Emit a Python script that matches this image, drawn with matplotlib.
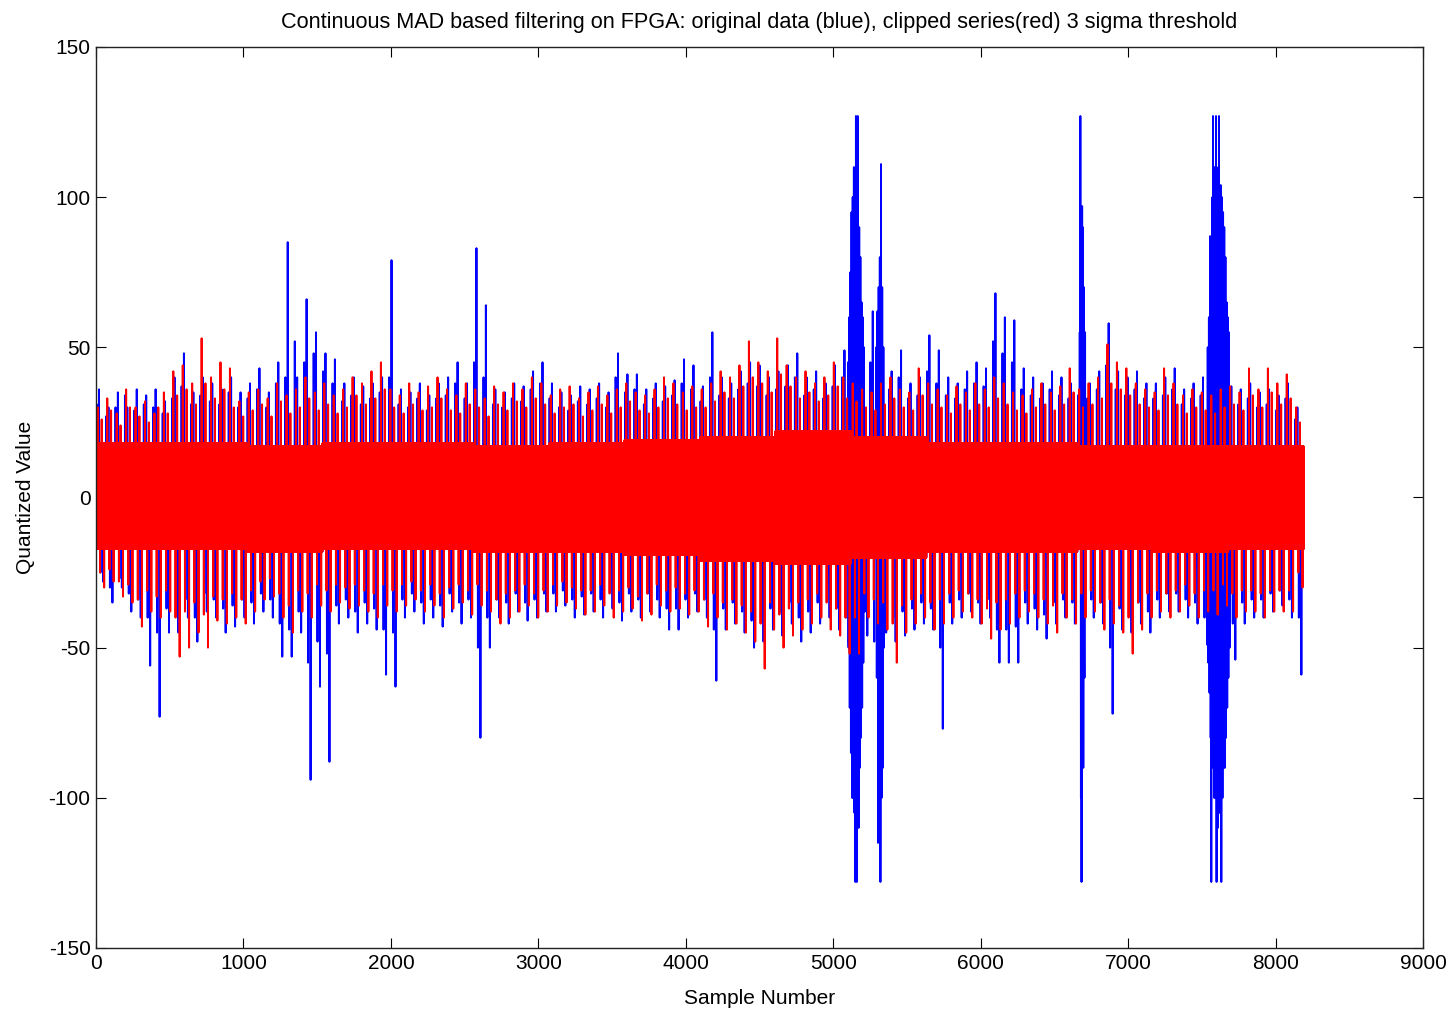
import numpy as np
import matplotlib
matplotlib.use("Agg")
import matplotlib.pyplot as plt

# samples and block sizes
n_samples = 8192
block = 64        # fringe peaks read per 64-sample block
core_block = 512  # width of solid band read per 512-sample block

# solid central band (per 512 samples)
core_top = [18, 18, 17, 18, 18, 17, 18, 19, 20, 22, 20, 18, 18, 17, 17, 17]
core_bot = [-17, -17, -18, -17, -17, -18, -18, -19, -21, -22, -20, -18, -18, -17, -18, -17]

# clipped series (red), largest peaks per 64-sample block
red_top = [30, 33, 28, 36, 30, 32, 28, 35, 42, 44, 38, 53, 40, 45, 43, 32,
           35, 36, 33, 38, 34, 36, 40, 35, 38, 34, 36, 40, 38, 42, 45, 36,
           34, 38, 35, 37, 40, 36, 34, 38, 36, 33, 37, 35, 38, 36, 40, 38,
           34, 36, 37, 33, 35, 37, 34, 36, 38, 35, 34, 36, 40, 38, 35, 37,
           36, 38, 42, 40, 44, 52, 45, 42, 53, 44, 40, 42, 38, 40, 45, 40,
           38, 36, 35, 38, 40, 36, 35, 43, 38, 36, 34, 37, 35, 38, 36, 40,
           38, 35, 34, 36, 38, 35, 37, 43, 36, 38, 40, 51, 45, 43, 38, 36,
           35, 43, 38, 34, 36, 35, 34, 36, 37, 35, 43, 36, 43, 38, 41, 30]
red_bot = [-30, -28, -33, -35, -43, -38, -40, -38, -53, -50, -45, -50, -41, -42, -40, -42,
           -38, -34, -33, -40, -45, -38, -40, -36, -38, -35, -37, -36, -38, -40, -36, -38,
           -36, -34, -38, -36, -40, -37, -35, -39, -36, -38, -42, -40, -38, -36, -40, -38,
           -36, -35, -37, -39, -38, -36, -40, -38, -37, -41, -39, -36, -38, -37, -39, -38,
           -43, -40, -44, -42, -45, -48, -57, -44, -50, -46, -44, -42, -40, -44, -46, -52,
           -52, -40, -42, -44, -55, -45, -42, -40, -44, -42, -40, -38, -40, -42, -47, -44,
           -42, -40, -38, -40, -42, -45, -40, -42, -40, -38, -44, -42, -45, -52, -44, -40,
           -38, -40, -38, -36, -40, -38, -39, -36, -40, -38, -38, -40, -38, -38, -38, -30]

# clipped series (red), second peaks per 64-sample block
red_top2 = [26, 29, 24, 30, 27, 25, 30, 28, 34, 36, 31, 38, 33, 36, 30, 27,
            29, 31, 27, 32, 28, 30, 33, 29, 31, 28, 30, 34, 31, 33, 36, 30,
            28, 31, 29, 30, 33, 29, 28, 31, 30, 27, 31, 29, 32, 30, 33, 31,
            28, 30, 31, 27, 29, 31, 28, 30, 32, 29, 28, 30, 33, 31, 29, 30,
            30, 32, 35, 33, 37, 40, 38, 35, 41, 37, 33, 35, 32, 34, 37, 33,
            32, 30, 29, 31, 33, 30, 29, 34, 31, 30, 28, 31, 29, 31, 30, 33,
            31, 29, 28, 30, 31, 29, 31, 35, 30, 31, 33, 38, 36, 34, 31, 30,
            29, 34, 31, 28, 30, 29, 28, 30, 31, 29, 34, 30, 35, 31, 33, 25]
red_bot2 = [-25, -24, -28, -29, -34, -31, -33, -31, -40, -38, -35, -39, -33, -34, -32, -34,
            -31, -28, -27, -32, -36, -31, -32, -29, -31, -29, -30, -29, -31, -32, -29, -31,
            -29, -28, -31, -29, -32, -30, -29, -31, -29, -31, -34, -32, -31, -29, -32, -31,
            -29, -28, -30, -31, -31, -29, -32, -31, -30, -33, -32, -29, -31, -30, -32, -31,
            -34, -32, -35, -34, -36, -38, -42, -35, -39, -37, -35, -34, -32, -35, -37, -40,
            -40, -32, -34, -35, -42, -36, -34, -32, -35, -34, -32, -31, -32, -34, -37, -35,
            -34, -32, -31, -32, -34, -36, -32, -34, -32, -31, -35, -34, -36, -40, -35, -32,
            -31, -32, -31, -29, -32, -31, -31, -29, -32, -31, -31, -32, -31, -31, -31, -25]

# original data (blue), peaks per 64-sample block
blue_top = [36, 30, 35, 30, 36, 34, 36, 32, 40, 48, 35, 40, 38, 36, 40, 35,
            38, 43, 35, 45, 85, 40, 66, 55, 48, 46, 38, 40, 37, 38, 40, 79,
            36, 35, 38, 34, 38, 40, 45, 38, 83, 64, 36, 35, 38, 37, 42, 45,
            38, 35, 34, 37, 36, 38, 35, 48, 41, 41, 36, 38, 37, 39, 46, 44,
            37, 55, 40, 38, 42, 45, 44, 40, 42, 44, 48, 40, 42, 38, 44, 49,
            45, 42, 62, 50, 42, 49, 38, 40, 54, 49, 40, 38, 42, 45, 43, 68,
            60, 59, 43, 40, 38, 42, 40, 38, 40, 38, 42, 58, 42, 40, 42, 38,
            38, 40, 43, 36, 38, 40, 42, 44, 37, 36, 38, 35, 36, 34, 38, 30]
blue_bot = [-28, -35, -30, -38, -40, -56, -73, -45, -45, -40, -48, -38, -40, -45, -43, -40,
            -42, -38, -40, -53, -53, -45, -94, -63, -88, -42, -40, -45, -42, -44, -59, -63,
            -40, -38, -42, -40, -43, -38, -42, -40, -80, -50, -40, -42, -38, -41, -40, -38,
            -38, -36, -40, -39, -38, -40, -37, -41, -38, -40, -38, -40, -44, -44, -40, -38,
            -40, -61, -44, -42, -45, -50, -48, -44, -46, -42, -48, -45, -42, -40, -44, -48,
            -50, -46, -60, -45, -48, -46, -44, -42, -44, -77, -42, -40, -38, -42, -40, -55,
            -55, -55, -42, -44, -47, -42, -40, -42, -45, -40, -42, -72, -44, -45, -42, -45,
            -40, -38, -38, -40, -42, -49, -48, -46, -54, -42, -40, -40, -38, -36, -40, -59]

# original data (blue), second peaks per 64-sample block
blue_top2 = [31, 27, 30, 34, 29, 31, 30, 28, 33, 37, 31, 34, 32, 31, 35, 30,
             33, 36, 30, 38, 40, 52, 45, 48, 42, 38, 32, 34, 31, 33, 35, 40,
             31, 30, 33, 29, 33, 34, 38, 33, 45, 40, 31, 30, 33, 32, 36, 38,
             33, 30, 29, 32, 31, 33, 30, 40, 35, 36, 31, 33, 32, 34, 38, 36,
             32, 40, 34, 33, 36, 38, 37, 34, 36, 37, 40, 34, 36, 33, 37, 40,
             40, 36, 45, 40, 36, 40, 33, 34, 42, 38, 34, 33, 36, 38, 37, 52,
             48, 45, 36, 34, 33, 36, 34, 33, 34, 33, 36, 44, 36, 34, 36, 33,
             33, 34, 36, 31, 33, 34, 36, 37, 32, 31, 33, 30, 31, 29, 33, 26]
blue_bot2 = [-25, -30, -27, -32, -34, -40, -45, -37, -38, -34, -40, -32, -34, -37, -36, -34,
             -35, -32, -34, -42, -44, -38, -55, -48, -52, -36, -34, -38, -35, -37, -44, -45,
             -34, -32, -35, -34, -36, -32, -35, -34, -50, -40, -34, -35, -32, -35, -34, -32,
             -32, -31, -34, -33, -32, -34, -31, -35, -32, -34, -32, -34, -37, -37, -34, -32,
             -34, -44, -37, -35, -38, -41, -40, -37, -38, -35, -40, -38, -35, -34, -37, -40,
             -42, -38, -48, -38, -40, -38, -37, -35, -37, -50, -35, -34, -32, -35, -34, -44,
             -44, -43, -35, -37, -39, -35, -34, -35, -37, -34, -35, -50, -37, -38, -35, -38,
             -34, -32, -32, -34, -35, -40, -40, -38, -42, -35, -34, -34, -32, -31, -34, -40]

# saturated bursts in the original data (sample index, value)
burst_x = [5100, 5104, 5108, 5112, 5116, 5120, 5124, 5128, 5132, 5136, 5140, 5144, 5148,
           5150, 5154, 5158, 5160, 5164, 5166, 5170, 5172, 5176, 5180, 5184, 5188, 5192,
           5196, 5200, 5204, 5208,
           5292, 5296, 5300, 5304, 5308, 5312, 5316, 5320, 5324, 5328, 5332, 5336, 5340, 5344,
           6672, 6676, 6680, 6684, 6688, 6692, 6696, 6700, 6704, 6708,
           7540, 7544, 7548, 7552, 7556, 7560, 7564, 7568, 7572, 7576, 7580, 7584, 7588,
           7592, 7596, 7600, 7604, 7608, 7612, 7616, 7620, 7624, 7628, 7632, 7636, 7640,
           7644, 7648, 7652, 7656, 7660, 7664, 7668, 7672, 7676, 7680, 7684, 7688]
burst_y = [45, -50, 60, -70, 75, -85, 95, -100, 100, -100, 110, -105, 108,
           -128, 127, -110, -128, 100, 127, -95, -110, 90, -90, 80, -80, 65,
           -70, 60, -55, 50,
           50, -60, 62, -115, 70, -90, 80, -128, 111, -100, 70, -90, 50, -50,
           55, 127, -100, -128, 97, 90, -90, 70, -60, 55,
           50, -55, 60, -65, 87, -80, -128, -90, 100, 127, 95, -100, 110,
           -100, 127, -128, 100, -110, 110, 127, -105, -100, 104, -128, 100, -100,
           95, -90, 90, -90, 80, -80, 65, -70, 60, -60, 55, -50]

# build the two series from the values read above
idx = np.arange(n_samples)
cb = idx // core_block
band = np.where(idx % 2 == 0, np.take(core_top, cb), np.take(core_bot, cb)).astype(float)

starts = np.arange(0, n_samples, block)
blue = band.copy()
blue[starts + 4] = blue_top2
blue[starts + 20] = blue_top
blue[starts + 30] = blue_bot2
blue[starts + 47] = blue_bot
blue[burst_x] = burst_y

red = band.copy()
red[starts + 12] = red_top
red[starts + 27] = red_bot2
red[starts + 38] = red_top2
red[starts + 55] = red_bot

plt.rcParams['font.family'] = ['Liberation Sans', 'DejaVu Sans']
plt.rcParams['axes.unicode_minus'] = False

fig = plt.figure(figsize=(14.51, 10.10), dpi=100)
ax = fig.add_axes([0.0662, 0.0614, 0.9145, 0.8921])

ax.plot(idx, blue, color=(0, 0, 1), linewidth=1.4)
ax.plot(idx, red, color=(1, 0, 0), linewidth=1.4)

ax.set_xlim(0, 9000)
ax.set_ylim(-150, 150)
ax.set_xticks(np.arange(0, 9001, 1000))
ax.set_yticks(np.arange(-150, 151, 50))
ax.tick_params(direction='in', top=True, right=True, length=7, labelsize=15, pad=4)
for s in ax.spines.values():
    s.set_linewidth(1.0)
    s.set_color('#222222')

ax.set_title('Continuous MAD based filtering on FPGA: original data (blue), clipped series(red) 3 sigma threshold',
             fontsize=15.6, pad=14)
ax.set_xlabel('Sample Number', fontsize=15, labelpad=12)
ax.set_ylabel('Quantized Value', fontsize=15, labelpad=10)

fig.savefig('out.png', dpi=100)
